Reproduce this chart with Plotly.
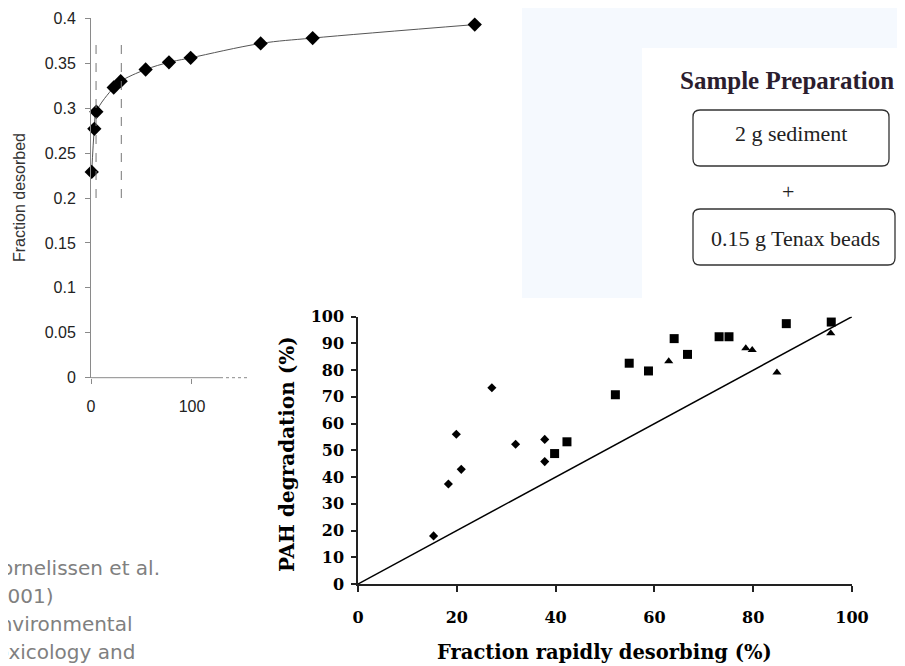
import plotly.graph_objects as go

# the page puts the figure 8px in from the top-left corner (body margin)
OFF = 8
W, H = 905 - OFF, 666 - OFF


def fx(px):
    return (px - OFF) / W


def fy(py):
    return 1 - (py - OFF) / H


# --- top chart: desorption curve ---
des_time = [0.7, 3.3, 5.3, 22.5, 29.4, 54.1, 77.2, 98.7, 168, 219.5, 380]
des_frac = [0.229, 0.277, 0.296, 0.323, 0.330, 0.343, 0.351, 0.356, 0.372, 0.378, 0.393]
des_yticks = [0, 0.05, 0.1, 0.15, 0.2, 0.25, 0.3, 0.35, 0.4]
des_ylabels = ["0", "0.05", "0.1", "0.15", "0.2", "0.25", "0.3", "0.35", "0.4"]
des_xticks = [0, 100]
cut_times = [5, 30]

# --- bottom chart: degradation vs fraction rapidly desorbing ---
dia_x = [15.3, 18.3, 19.9, 20.9, 27.1, 31.9, 37.8, 37.8]
dia_y = [18.0, 37.4, 56.0, 42.9, 73.4, 52.3, 54.1, 45.8]
sq_x = [39.8, 42.3, 52.1, 54.9, 58.8, 64.0, 66.7, 73.1, 75.1, 86.7, 95.8]
sq_y = [48.8, 53.2, 70.8, 82.6, 79.7, 91.8, 85.9, 92.5, 92.5, 97.4, 98.0]
tri_x = [62.9, 78.5, 79.8, 84.8, 95.7]
tri_y = [83.3, 88.2, 87.5, 79.1, 93.8]
one_to_one = [0, 100]

citation = ["Cornelissen et al.", "(2001)", "Environmental", "Toxicology and"]

fig = go.Figure()

fig.add_trace(go.Scatter(
    x=des_time, y=des_frac, mode="lines+markers",
    line=dict(color="#555555", width=1, shape="spline"),
    marker=dict(symbol="diamond", size=11, color="black"),
    cliponaxis=False, xaxis="x", yaxis="y"))

fig.add_trace(go.Scatter(
    x=one_to_one, y=one_to_one, mode="lines",
    line=dict(color="black", width=1.5),
    xaxis="x2", yaxis="y2"))
fig.add_trace(go.Scatter(
    x=dia_x, y=dia_y, mode="markers",
    marker=dict(symbol="diamond", size=7, color="black"),
    cliponaxis=False, xaxis="x2", yaxis="y2"))
fig.add_trace(go.Scatter(
    x=sq_x, y=sq_y, mode="markers",
    marker=dict(symbol="square", size=9, color="black"),
    cliponaxis=False, xaxis="x2", yaxis="y2"))
fig.add_trace(go.Scatter(
    x=tri_x, y=tri_y, mode="markers",
    marker=dict(symbol="triangle-up", size=8, color="black"),
    cliponaxis=False, xaxis="x2", yaxis="y2"))

shapes = [
    # pale blue slide panel and white inset
    dict(type="rect", xref="paper", yref="paper", x0=fx(522), x1=1, y0=fy(298), y1=1,
         fillcolor="#f5f9fe", line_width=0, layer="below"),
    dict(type="rect", xref="paper", yref="paper", x0=fx(642), x1=1, y0=fy(298), y1=fy(48),
         fillcolor="white", line_width=0, layer="below"),
    # truncated x axis line of the top chart
    dict(type="line", xref="paper", yref="paper", x0=fx(91), x1=fx(220), y0=fy(377.7), y1=fy(377.7),
         line=dict(color="#8a8a8a", width=1)),
    dict(type="line", xref="paper", yref="paper", x0=fx(220), x1=fx(248), y0=fy(377.7), y1=fy(377.7),
         line=dict(color="#8a8a8a", width=1, dash="dot")),
]
for t in cut_times:
    shapes.append(dict(type="line", xref="x", yref="y", x0=t, x1=t, y0=0.2, y1=0.38,
                       line=dict(color="#777777", width=1, dash="dash")))


def rounded_box(x0, y0, x1, y1, r=7):
    X0, X1 = fx(x0), fx(x1)
    Y0, Y1 = fy(y0), fy(y1)
    rx, ry = r / W, r / H
    path = (f"M{X0+rx},{Y0} L{X1-rx},{Y0} Q{X1},{Y0} {X1},{Y0-ry} "
            f"L{X1},{Y1+ry} Q{X1},{Y1} {X1-rx},{Y1} L{X0+rx},{Y1} "
            f"Q{X0},{Y1} {X0},{Y1+ry} L{X0},{Y0-ry} Q{X0},{Y0} {X0+rx},{Y0} Z")
    return dict(type="path", xref="paper", yref="paper", path=path,
                line=dict(color="#333333", width=1.3), fillcolor="white")


shapes.append(rounded_box(693, 110, 889, 166))
shapes.append(rounded_box(693, 209, 895, 265))

serif = "Liberation Serif"
bserif = "DejaVu Serif"

annotations = [
    dict(text="Fraction desorbed", x=fx(20), y=fy(198), textangle=-90,
         font=dict(family="Liberation Sans", size=16, color="#333333")),
    dict(text="<b>PAH degradation (%)</b>", x=fx(287), y=fy(454), textangle=-90,
         font=dict(family=bserif, size=20, color="black")),
    dict(text="<b>Fraction rapidly desorbing (%)</b>", x=fx(604), y=fy(652),
         font=dict(family=bserif, size=19.5, color="black")),
    dict(text="<b>Sample Preparation</b>", x=fx(787), y=fy(80),
         font=dict(family=serif, size=25, color="#2b1d2e")),
    dict(text="2 g sediment", x=fx(791), y=fy(134),
         font=dict(family=serif, size=22, color="#222222")),
    dict(text="+", x=fx(788), y=fy(192),
         font=dict(family=serif, size=22, color="#222222")),
    dict(text="0.15 g Tenax beads", x=fx(795), y=fy(238),
         font=dict(family=serif, size=22, color="#222222")),
]
for i, line in enumerate(citation):
    annotations.append(dict(text=line, x=fx(-15), y=fy(568 + i * 28), xanchor="left",
                            font=dict(family="DejaVu Sans", size=20, color="#808080")))
for a in annotations:
    a.update(xref="paper", yref="paper", showarrow=False)
    a.setdefault("xanchor", "center")
    a.setdefault("yanchor", "middle")

fig.update_layout(
    width=W, height=H,
    margin=dict(l=0, r=0, t=0, b=0, autoexpand=False),
    paper_bgcolor="white", plot_bgcolor="rgba(0,0,0,0)",
    showlegend=False,
    shapes=shapes, annotations=annotations,
    xaxis=dict(domain=[fx(91), fx(500)], range=[0, 405], anchor="y",
               showline=False, showgrid=False, zeroline=False,
               tickvals=des_xticks, ticks="outside", ticklen=5, tickcolor="#8a8a8a",
               ticklabelstandoff=9,
               tickfont=dict(family="Liberation Sans", size=16, color="#222222")),
    yaxis=dict(domain=[fy(377.7), fy(18.3)], range=[0, 0.4], anchor="x",
               showline=True, linecolor="#8a8a8a", linewidth=1,
               showgrid=False, zeroline=False,
               tickvals=des_yticks, ticktext=des_ylabels,
               ticks="outside", ticklen=5, tickcolor="#8a8a8a", ticklabelstandoff=6,
               tickfont=dict(family="Liberation Sans", size=16, color="#222222")),
    xaxis2=dict(domain=[fx(358), fx(852)], range=[0, 100], anchor="y2",
                showline=True, linecolor="#222222", linewidth=1.5,
                showgrid=False, zeroline=False,
                tickvals=[0, 20, 40, 60, 80, 100],
                ticks="outside", ticklen=6, tickcolor="#222222", tickwidth=1.5,
                ticklabelstandoff=12,
                tickfont=dict(family=bserif, size=16, color="black", weight="bold")),
    yaxis2=dict(domain=[fy(584), fy(316.7)], range=[0, 100], anchor="x2",
                showline=True, linecolor="#222222", linewidth=1.5,
                showgrid=False, zeroline=False,
                tickvals=list(range(0, 101, 10)),
                ticks="outside", ticklen=5, tickcolor="#222222", tickwidth=1.5,
                ticklabelstandoff=4,
                tickfont=dict(family=bserif, size=16, color="black", weight="bold")),
)

fig.write_html("out.html")
